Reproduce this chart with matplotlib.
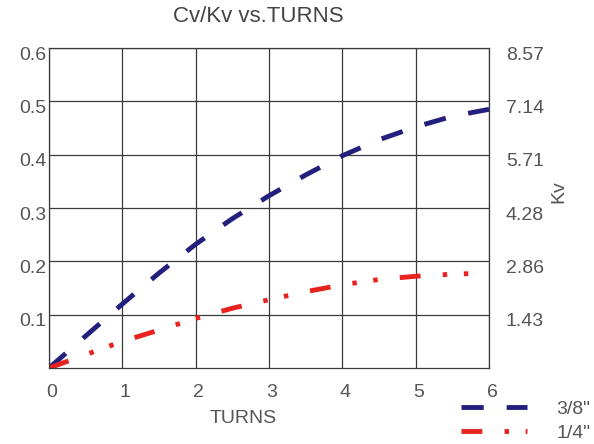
import matplotlib
matplotlib.use('Agg')
import matplotlib.pyplot as plt
import matplotlib.transforms as mtransforms

plt.rcParams['font.family'] = ['Liberation Sans', 'DejaVu Sans']
plt.rcParams['lines.scale_dashes'] = False

turns = [0, 0.5, 1, 1.5, 2, 2.5, 3, 3.5, 4, 4.5, 5, 5.5, 6]
cv_38 = [0, 0.06, 0.12, 0.178, 0.232, 0.28, 0.323, 0.362, 0.398, 0.428, 0.452, 0.472, 0.485]
cv_14 = [0, 0.025, 0.05, 0.071, 0.093, 0.112, 0.128, 0.143, 0.156, 0.166, 0.172, 0.176, 0.178]

x_ticks = [0, 1, 2, 3, 4, 5, 6]
cv_ticks = [0.1, 0.2, 0.3, 0.4, 0.5, 0.6]
cv_labels = ['0.1', '0.2', '0.3', '0.4', '0.5', '0.6']
kv_labels = ['1.43', '2.86', '4.28', '5.71', '7.14', '8.57']

azul = '#231f7c'
vermelho = '#e8231f'
cinza = '#555555'
grade = '#3a3a3a'

fig = plt.figure(figsize=(5.94, 4.44), dpi=100)
ax = fig.add_axes([49/594, 1 - 368/444, 440/594, 320/444])

ax.plot(turns, cv_38, color=azul, lw=3.5, dashes=(16, 16.5),
        solid_capstyle='butt', dash_capstyle='butt', label='3/8"')
ax.plot(turns, cv_14, color=vermelho, lw=3.5, dashes=(15, 16, 3.2, 12, 3.2, 16),
        dash_capstyle='butt', label='1/4"')

ax.set_xlim(0, 6)
ax.set_ylim(0, 0.6)
ax.set_xticks(x_ticks)
ax.set_yticks(cv_ticks)
ax.set_yticklabels(cv_labels)
ax.grid(True, color=grade, lw=0.9)
for s in ax.spines.values():
    s.set_color(grade)
    s.set_linewidth(0.9)
ax.tick_params(length=0, labelsize=14, labelcolor=cinza)
ax.tick_params(axis='x', pad=8)
ax.tick_params(axis='y', pad=4)

ax2 = ax.twinx()
ax2.set_ylim(0, 0.6)
ax2.set_yticks(cv_ticks)
ax2.set_yticklabels(kv_labels)
ax2.tick_params(length=0, labelsize=14, labelcolor=cinza, pad=10)
for s in ax2.spines.values():
    s.set_visible(False)

# leve deslocamento dos rótulos como no original
desl = mtransforms.ScaledTranslation(0.03, -0.05, fig.dpi_scale_trans)
for lab in ax.get_yticklabels() + ax2.get_yticklabels() + ax.get_xticklabels():
    lab.set_transform(lab.get_transform() + desl)

ax.set_xlabel('TURNS', fontsize=14, color=cinza)
ax.xaxis.set_label_coords(0.441, -0.13)
ax2.set_ylabel('Kv', fontsize=14, color=cinza, rotation=90)
ax2.yaxis.set_label_coords(1.14, 0.55)

fig.text(258/594, 1 - 17/444, 'Cv/Kv vs.TURNS', fontsize=16, color='#444444',
         ha='center', va='center')

fig.legend(loc='center left', bbox_to_anchor=(461/594, 1 - 421/444), frameon=False,
           fontsize=14, handlelength=3.4, handletextpad=1.5, labelspacing=0.3,
           borderpad=0, borderaxespad=0, labelcolor=cinza)

plt.savefig('out.png', dpi=100)
